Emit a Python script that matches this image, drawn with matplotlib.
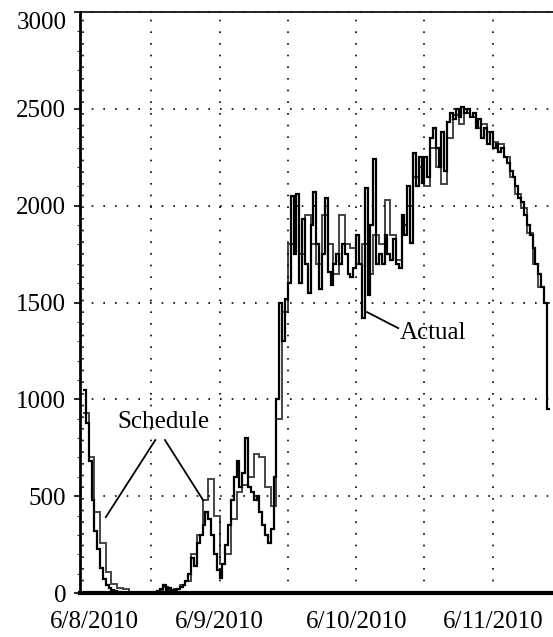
import matplotlib
matplotlib.use("Agg")
import matplotlib.pyplot as plt
import matplotlib.transforms as mtransforms
import numpy as np

plt.rcParams['font.family'] = ['Liberation Serif', 'DejaVu Serif']

# Carga real (cada media hora) y programada (cada hora), desde 6/8/2010 00:00
actual = [1050, 880, 680, 480, 320, 230, 130, 70, 40, 25, 15, 10,
          5, 0, 0, 0, 0, 0, 0, 0, 0, 0, 0, 0,
          0, 5, 10, 20, 40, 15, 25, 10, 15, 20, 30, 40,
          60, 100, 180, 140, 260, 300, 350, 420, 380, 300, 200, 120,
          80, 150, 250, 350, 480, 600, 680, 550, 620, 800, 550, 520,
          480, 500, 420, 350, 300, 260, 330, 600, 1000, 1500, 1300, 1520,
          1600, 2050, 1750, 2060, 1600, 1930, 1700, 1550, 1900, 2070, 1800, 1570,
          1750, 2040, 1660, 1590, 1700, 1750, 1700, 1800, 1750, 1650, 1630, 1680,
          1850, 1700, 1420, 2090, 1540, 1900, 2240, 1700, 1750, 1700, 1850, 1750,
          1720, 1830, 1700, 1680, 1950, 1850, 2100, 1810, 2270, 2100, 2250, 2120,
          2250, 2150, 2350, 2400, 2300, 2200, 2380, 2180, 2430, 2480, 2450, 2500,
          2460, 2510, 2480, 2500, 2460, 2480, 2400, 2450, 2350, 2400, 2320, 2380,
          2300, 2320, 2280, 2300, 2250, 2220, 2180, 2150, 2100, 2040, 2020, 1950,
          1900, 1850, 1780, 1700, 1650, 1580, 1500, 950]

schedule = [930, 700, 420, 260, 110, 45, 25, 20, 0, 0, 0, 0,
            0, 10, 30, 15, 20, 40, 60, 200, 300, 480, 590, 400,
            150, 200, 380, 520, 560, 600, 720, 700, 550, 450, 900, 1450,
            1800, 2000, 1750, 1950, 1800, 1700, 1950, 1800, 1650, 1950, 1800, 1780,
            1700, 1800, 1650, 1850, 1800, 2030, 1850, 1720, 1900, 2000, 2150, 2200,
            2100, 2300, 2200, 2110, 2350, 2470, 2420, 2480, 2460, 2400, 2420, 2380,
            2330, 2320, 2250, 2150, 2060, 1990, 1860, 1700, 1580, 1500]

dias = ['6/8/2010', '6/9/2010', '6/10/2010', '6/11/2010']

# Bordes de cada escalón en horas
t_actual = np.arange(len(actual) + 1) * 0.5
t_schedule = np.arange(len(schedule) + 1) * 1.0

fig = plt.figure(figsize=(5.53, 6.37), dpi=100)
ax = fig.add_axes([0.145, 0.069, 0.855, 0.912])

ax.stairs(schedule, t_schedule, baseline=None, color='#444444', linewidth=1.4)
ax.stairs(actual, t_actual, baseline=None, color='black', linewidth=1.6)

ax.set_xlim(-0.5, 82.6)
ax.set_ylim(0, 3000)

ax.set_xticks(np.arange(len(dias)) * 24)
ax.set_xticklabels(dias)
ax.set_xticks(np.arange(len(dias) - 1) * 24 + 12, minor=True)
ax.set_yticks(np.arange(0, 3001, 500))
ax.get_yticklabels()[-1].set_verticalalignment('top')
ax.set_yticks(np.arange(0, 3001, 100), minor=True)

ax.tick_params(axis='x', which='both', length=0, pad=13, labelsize=18)
ax.tick_params(axis='y', which='major', length=4, width=1.2, pad=6, labelsize=18)
ax.tick_params(axis='y', which='minor', length=2, width=0.6)

# la primera fecha va un poco a la derecha, como en el original
lbl0 = ax.xaxis.get_major_ticks()[0].label1
lbl0.set_transform(lbl0.get_transform() + mtransforms.ScaledTranslation(8 / 72, 0, fig.dpi_scale_trans))

ax.grid(True, axis='x', which='both', color='black', linestyle=(0, (1, 6)), linewidth=1.2)
ax.grid(True, axis='y', which='major', color='black', linestyle=(0, (1, 6)), linewidth=1.2)

ax.spines['right'].set_visible(False)
ax.spines['left'].set_linewidth(2)
ax.spines['bottom'].set_linewidth(3)
ax.spines['top'].set_linewidth(1.2)

# Anotaciones
ax.text(14.1, 883, 'Schedule', fontsize=18, ha='center', va='center')
ax.plot([12.7, 4.0], [790, 392], color='black', linewidth=1.3)
ax.plot([14.4, 21.1], [790, 480], color='black', linewidth=1.3)
ax.text(61.5, 1343, 'Actual', fontsize=18, ha='center', va='center')
ax.plot([49.9, 55.4], [1451, 1368], color='black', linewidth=1.3)

fig.savefig('out.png', dpi=100)
